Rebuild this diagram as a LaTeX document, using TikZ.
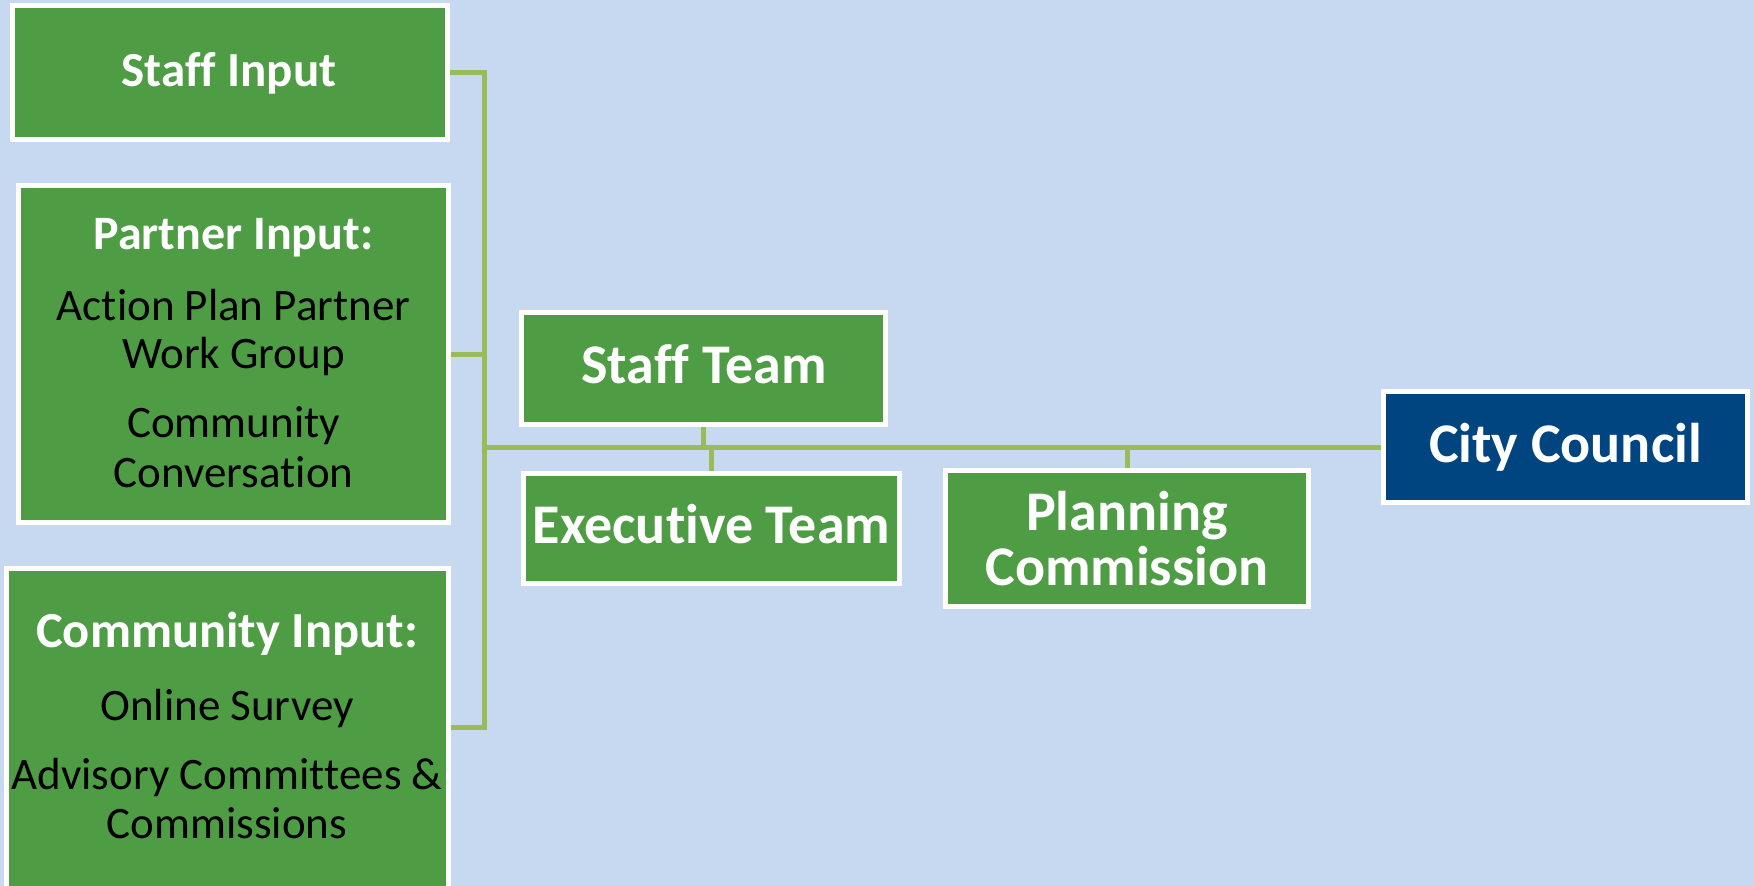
\documentclass[tikz,border=0pt]{standalone}
\usepackage{fontspec}
\setmainfont{Carlito}[Ligatures=NoCommon]
\newcommand{\nl}{\kern0pt }
\definecolor{bgblue}{HTML}{C6D9F0}
\definecolor{boxgreen}{HTML}{4E9C44}
\definecolor{linegreen}{HTML}{9BBB59}
\definecolor{ccblue}{HTML}{004580}
\tikzset{
  box/.style={rectangle, draw=white, line width=5pt, fill=boxgreen, inner sep=0pt},
  hdr/.style={font=\fontsize{49}{52}\selectfont\bfseries, text=white, anchor=base, inner sep=0pt},
  item/.style={font=\fontsize{45}{48}\selectfont, text=black, anchor=base, inner sep=0pt},
  big/.style={font=\fontsize{56}{60}\selectfont\bfseries, text=white, anchor=base, inner sep=0pt},
  conn/.style={draw=linegreen, line width=5pt, line join=miter}
}
\begin{document}
\begin{tikzpicture}[x=1pt,y=-1pt]
\useasboundingbox (0,0) rectangle (1754,886);
\clip (0,0) rectangle (1754,886);
\fill[bgblue] (0,0) rectangle (1754,886);

% boxes
\node[box, minimum width=435pt, minimum height=134pt] (si) at (230,72.5) {};
\node[box, minimum width=430pt, minimum height=337pt] (pi) at (233.5,354) {};
\node[box, minimum width=442pt, minimum height=351pt] (ci) at (227.5,744) {};
\node[box, minimum width=364pt, minimum height=112pt] (st) at (703.5,368.5) {};
\node[box, minimum width=376pt, minimum height=110pt] (et) at (711.5,528.5) {};
\node[box, minimum width=363pt, minimum height=136pt] (pc) at (1127,538.5) {};
\node[box, fill=ccblue, minimum width=364pt, minimum height=111pt] (cc) at (1565.5,447) {};

% texts
\node[hdr] (t1) at (229,86) {Staf\nl f Input};
\node[hdr, font=\fontsize{48}{52}\selectfont\bfseries] (t2) at (233.5,249) {Partner Input:};
\node[item] (t3) at (233.5,320) {Ac\nl tion Plan Partner};
\node[item] (t4) at (233.5,368) {Work Group};
\node[item] (t5) at (233.5,437) {Community};
\node[item] (t6) at (233.5,487) {Conversa\nl tion};
\node[hdr, font=\fontsize{50.5}{54}\selectfont\bfseries] (t7) at (227,647) {Community Input:};
\node[item] (t8) at (227,720) {Online Survey};
\node[item] (t9) at (227,789) {Advisory Commit\nl tees \&};
\node[item] (t10) at (227,838) {Commissions};
\node[big] (t11) at (704,383) {Staf\nl f Team};
\node[big] (t12) at (711.5,543) {Execu\nl tive Team};
\node[big] (t13) at (1127,530) {Planning};
\node[big] (t14) at (1127,585) {Commission};
\node[big] (t15) at (1565.5,462) {City Council};

% connectors
\coordinate (hub) at (484.5,447);
\path[conn] (si.east) -| (hub);
\path[conn] (pi.east) -| (hub);
\path[conn] ([yshift=17pt]ci.east) -| (hub);
\path[conn] (hub) -- (cc.west);
\path[conn] (st.south) -- (st.south |- hub);
\path[conn] (et.north) -- (et.north |- hub);
\path[conn] (pc.north) -- (pc.north |- hub);
\end{tikzpicture}
\end{document}
